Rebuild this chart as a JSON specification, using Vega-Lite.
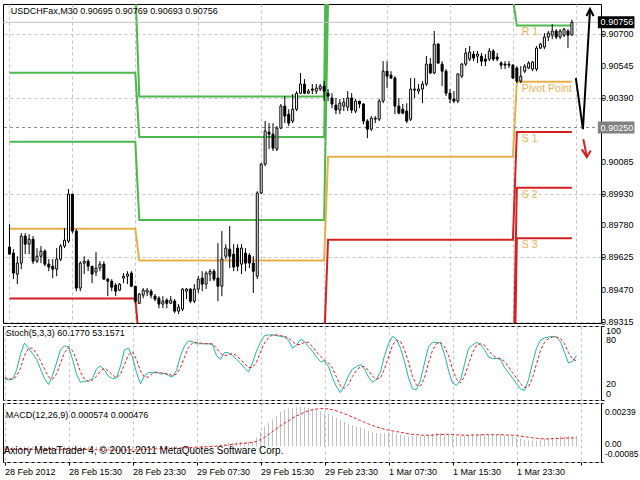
{
"$schema": "https://vega.github.io/schema/vega-lite/v6.json",
"background": "white",
"padding": {"left": 2, "top": 3, "right": 0, "bottom": 0},
"spacing": 3,
"bounds": "flush",
"config": {
  "view": {"stroke": "#000000", "strokeWidth": 1},
  "axis": {"labelFont": "Liberation Sans", "labelFontSize": 9, "labelColor": "#000000", "tickColor": "#000000", "tickSize": 3, "labelPadding": 2, "domain": false, "gridColor": "#c4c4c4", "gridDash": [3, 3], "gridWidth": 1, "labelOverlap": false},
  "text": {"font": "Liberation Sans"}
},
"datasets": {
  "candles": [
{"k":0,"o":0.89675,"h":0.89785,"l":0.89641,"c":0.89641},
{"k":1,"o":0.89646,"h":0.89665,"l":0.89521,"c":0.8955},
{"k":2,"o":0.89545,"h":0.89631,"l":0.89497,"c":0.89598},
{"k":3,"o":0.89598,"h":0.89742,"l":0.89569,"c":0.89728},
{"k":4,"o":0.89728,"h":0.89742,"l":0.89641,"c":0.89689},
{"k":5,"o":0.89689,"h":0.89737,"l":0.89641,"c":0.89713},
{"k":6,"o":0.89713,"h":0.89728,"l":0.89593,"c":0.89607},
{"k":7,"o":0.89607,"h":0.8967,"l":0.89598,"c":0.89631},
{"k":8,"o":0.89631,"h":0.8968,"l":0.89598,"c":0.89656},
{"k":9,"o":0.89656,"h":0.89665,"l":0.89583,"c":0.89593},
{"k":10,"o":0.89593,"h":0.89617,"l":0.89559,"c":0.89579},
{"k":11,"o":0.89583,"h":0.89617,"l":0.89526,"c":0.89569},
{"k":12,"o":0.89569,"h":0.8967,"l":0.89535,"c":0.89617},
{"k":13,"o":0.89617,"h":0.89689,"l":0.89607,"c":0.8968},
{"k":14,"o":0.8968,"h":0.89766,"l":0.8967,"c":0.89708},
{"k":15,"o":0.89704,"h":0.89954,"l":0.89694,"c":0.8993},
{"k":16,"o":0.8993,"h":0.8993,"l":0.89742,"c":0.89752},
{"k":17,"o":0.89752,"h":0.89761,"l":0.89463,"c":0.89478},
{"k":18,"o":0.89478,"h":0.89607,"l":0.89463,"c":0.89598},
{"k":19,"o":0.89598,"h":0.89631,"l":0.89545,"c":0.89607},
{"k":20,"o":0.89607,"h":0.89617,"l":0.89559,"c":0.89583},
{"k":21,"o":0.89583,"h":0.89583,"l":0.89502,"c":0.89545},
{"k":22,"o":0.89555,"h":0.89651,"l":0.89535,"c":0.89574},
{"k":23,"o":0.89574,"h":0.89607,"l":0.89559,"c":0.89593},
{"k":24,"o":0.89593,"h":0.89607,"l":0.89516,"c":0.89521},
{"k":25,"o":0.89521,"h":0.89526,"l":0.89439,"c":0.89511},
{"k":26,"o":0.89511,"h":0.89521,"l":0.89463,"c":0.89482},
{"k":27,"o":0.89492,"h":0.89502,"l":0.89439,"c":0.89463},
{"k":28,"o":0.89468,"h":0.89502,"l":0.89463,"c":0.89497},
{"k":29,"o":0.89526,"h":0.8955,"l":0.89502,"c":0.89535},
{"k":30,"o":0.89535,"h":0.89559,"l":0.89497,"c":0.89545},
{"k":31,"o":0.8955,"h":0.89559,"l":0.89482,"c":0.89487},
{"k":32,"o":0.89487,"h":0.89487,"l":0.89405,"c":0.89415},
{"k":33,"o":0.89405,"h":0.89454,"l":0.89401,"c":0.89449},
{"k":34,"o":0.89444,"h":0.89478,"l":0.89429,"c":0.89468},
{"k":35,"o":0.89458,"h":0.89478,"l":0.89439,"c":0.89468},
{"k":36,"o":0.89463,"h":0.89473,"l":0.89429,"c":0.89444},
{"k":37,"o":0.89439,"h":0.89449,"l":0.89415,"c":0.89425},
{"k":38,"o":0.89429,"h":0.89439,"l":0.89381,"c":0.89401},
{"k":39,"o":0.89401,"h":0.89439,"l":0.89381,"c":0.89415},
{"k":40,"o":0.8942,"h":0.89429,"l":0.89381,"c":0.89405},
{"k":41,"o":0.89405,"h":0.89439,"l":0.89401,"c":0.8942},
{"k":42,"o":0.89415,"h":0.89425,"l":0.89357,"c":0.89367},
{"k":43,"o":0.89367,"h":0.89401,"l":0.89353,"c":0.89386},
{"k":44,"o":0.89377,"h":0.89478,"l":0.89367,"c":0.89473},
{"k":45,"o":0.89463,"h":0.89478,"l":0.89425,"c":0.89473},
{"k":46,"o":0.89473,"h":0.89478,"l":0.89405,"c":0.89415},
{"k":47,"o":0.89415,"h":0.89497,"l":0.89405,"c":0.89473},
{"k":48,"o":0.89473,"h":0.89535,"l":0.89454,"c":0.89521},
{"k":49,"o":0.89526,"h":0.89559,"l":0.89463,"c":0.89497},
{"k":50,"o":0.89497,"h":0.89559,"l":0.89473,"c":0.8955},
{"k":51,"o":0.89545,"h":0.89569,"l":0.89511,"c":0.89559},
{"k":52,"o":0.89559,"h":0.89569,"l":0.89511,"c":0.89521},
{"k":53,"o":0.89526,"h":0.89694,"l":0.89415,"c":0.89487},
{"k":54,"o":0.89487,"h":0.89752,"l":0.89439,"c":0.89617},
{"k":55,"o":0.89631,"h":0.89689,"l":0.89617,"c":0.8967},
{"k":56,"o":0.89665,"h":0.89776,"l":0.89574,"c":0.89631},
{"k":57,"o":0.89641,"h":0.89689,"l":0.89559,"c":0.89579},
{"k":58,"o":0.8967,"h":0.89689,"l":0.89559,"c":0.89583},
{"k":59,"o":0.89593,"h":0.89689,"l":0.89545,"c":0.8967},
{"k":60,"o":0.89646,"h":0.8967,"l":0.89559,"c":0.89598},
{"k":61,"o":0.89636,"h":0.89646,"l":0.89574,"c":0.89598},
{"k":62,"o":0.89598,"h":0.89631,"l":0.89454,"c":0.89559},
{"k":63,"o":0.89535,"h":0.89944,"l":0.89521,"c":0.89935},
{"k":64,"o":0.89935,"h":0.90079,"l":0.8993,"c":0.90074},
{"k":65,"o":0.90074,"h":0.90281,"l":0.90064,"c":0.90233},
{"k":66,"o":0.90228,"h":0.90271,"l":0.90146,"c":0.90218},
{"k":67,"o":0.90218,"h":0.90271,"l":0.90137,"c":0.90151},
{"k":68,"o":0.90146,"h":0.90257,"l":0.90137,"c":0.90247},
{"k":69,"o":0.90247,"h":0.90363,"l":0.90242,"c":0.90353},
{"k":70,"o":0.90353,"h":0.90401,"l":0.90271,"c":0.90305},
{"k":71,"o":0.90314,"h":0.90338,"l":0.90257,"c":0.90271},
{"k":72,"o":0.90281,"h":0.90411,"l":0.90271,"c":0.90338},
{"k":73,"o":0.90338,"h":0.90425,"l":0.90329,"c":0.90415},
{"k":74,"o":0.90415,"h":0.90512,"l":0.90411,"c":0.90459},
{"k":75,"o":0.90459,"h":0.90483,"l":0.90411,"c":0.90415},
{"k":76,"o":0.90415,"h":0.90435,"l":0.90411,"c":0.90425},
{"k":77,"o":0.90435,"h":0.90459,"l":0.90411,"c":0.9043},
{"k":78,"o":0.90425,"h":0.90459,"l":0.90411,"c":0.9044},
{"k":79,"o":0.90435,"h":0.90459,"l":0.90425,"c":0.90449},
{"k":80,"o":0.90449,"h":0.90473,"l":0.90377,"c":0.90425},
{"k":81,"o":0.90415,"h":0.90435,"l":0.90377,"c":0.90401},
{"k":82,"o":0.90392,"h":0.90415,"l":0.90343,"c":0.90363},
{"k":83,"o":0.90358,"h":0.90392,"l":0.90314,"c":0.90334},
{"k":84,"o":0.90334,"h":0.90387,"l":0.90314,"c":0.90367},
{"k":85,"o":0.90353,"h":0.90392,"l":0.90329,"c":0.90372},
{"k":86,"o":0.90348,"h":0.90425,"l":0.90329,"c":0.90392},
{"k":87,"o":0.90392,"h":0.90415,"l":0.90319,"c":0.90334},
{"k":88,"o":0.90329,"h":0.90387,"l":0.90319,"c":0.90377},
{"k":89,"o":0.90377,"h":0.90377,"l":0.90343,"c":0.90363},
{"k":90,"o":0.90363,"h":0.90367,"l":0.90266,"c":0.90281},
{"k":91,"o":0.90281,"h":0.9029,"l":0.90199,"c":0.90242},
{"k":92,"o":0.90242,"h":0.90305,"l":0.90233,"c":0.90295},
{"k":93,"o":0.9029,"h":0.90305,"l":0.90271,"c":0.90295},
{"k":94,"o":0.9029,"h":0.90387,"l":0.90281,"c":0.90377},
{"k":95,"o":0.90377,"h":0.90569,"l":0.90367,"c":0.90521},
{"k":96,"o":0.90521,"h":0.90569,"l":0.9044,"c":0.90497},
{"k":97,"o":0.90502,"h":0.90521,"l":0.90483,"c":0.90488},
{"k":98,"o":0.90488,"h":0.90497,"l":0.90314,"c":0.90353},
{"k":99,"o":0.90353,"h":0.90392,"l":0.90314,"c":0.90319},
{"k":100,"o":0.90338,"h":0.90363,"l":0.90314,"c":0.90319},
{"k":101,"o":0.90329,"h":0.90367,"l":0.90271,"c":0.90281},
{"k":102,"o":0.9029,"h":0.90488,"l":0.90281,"c":0.90435},
{"k":103,"o":0.9043,"h":0.90488,"l":0.90392,"c":0.90435},
{"k":104,"o":0.90425,"h":0.90459,"l":0.90411,"c":0.90435},
{"k":105,"o":0.90435,"h":0.90473,"l":0.90367,"c":0.90459},
{"k":106,"o":0.90459,"h":0.90594,"l":0.90449,"c":0.90555},
{"k":107,"o":0.90555,"h":0.90584,"l":0.90507,"c":0.90512},
{"k":108,"o":0.90512,"h":0.90714,"l":0.90507,"c":0.90651},
{"k":109,"o":0.90651,"h":0.90656,"l":0.90555,"c":0.9056},
{"k":110,"o":0.90555,"h":0.90569,"l":0.90449,"c":0.90521},
{"k":111,"o":0.90521,"h":0.90531,"l":0.90401,"c":0.90415},
{"k":112,"o":0.90415,"h":0.90435,"l":0.90367,"c":0.90387},
{"k":113,"o":0.90387,"h":0.90425,"l":0.90367,"c":0.90377},
{"k":114,"o":0.90377,"h":0.90512,"l":0.90367,"c":0.90507},
{"k":115,"o":0.90497,"h":0.9056,"l":0.90488,"c":0.90555},
{"k":116,"o":0.90555,"h":0.90632,"l":0.90545,"c":0.90608},
{"k":117,"o":0.90579,"h":0.90642,"l":0.90569,"c":0.90613},
{"k":118,"o":0.90603,"h":0.90618,"l":0.90569,"c":0.90584},
{"k":119,"o":0.90593,"h":0.90618,"l":0.9056,"c":0.90603},
{"k":120,"o":0.90593,"h":0.90608,"l":0.90545,"c":0.90569},
{"k":121,"o":0.90579,"h":0.90603,"l":0.90545,"c":0.90569},
{"k":122,"o":0.90579,"h":0.90632,"l":0.90569,"c":0.90618},
{"k":123,"o":0.90618,"h":0.90627,"l":0.90569,"c":0.90579},
{"k":124,"o":0.90589,"h":0.90608,"l":0.90569,"c":0.90579},
{"k":125,"o":0.9056,"h":0.90569,"l":0.90531,"c":0.9055},
{"k":126,"o":0.90555,"h":0.90569,"l":0.90531,"c":0.9055},
{"k":127,"o":0.90555,"h":0.90569,"l":0.90536,"c":0.9055},
{"k":128,"o":0.9055,"h":0.90555,"l":0.90483,"c":0.90488},
{"k":129,"o":0.90536,"h":0.90545,"l":0.90464,"c":0.90473},
{"k":130,"o":0.90473,"h":0.90545,"l":0.90464,"c":0.90497},
{"k":131,"o":0.90521,"h":0.90555,"l":0.90512,"c":0.90545},
{"k":132,"o":0.90536,"h":0.90569,"l":0.90531,"c":0.9056},
{"k":133,"o":0.90531,"h":0.90569,"l":0.90521,"c":0.90565},
{"k":134,"o":0.90531,"h":0.90642,"l":0.90521,"c":0.90632},
{"k":135,"o":0.90632,"h":0.90656,"l":0.90627,"c":0.90651},
{"k":136,"o":0.90637,"h":0.90704,"l":0.90627,"c":0.90685},
{"k":137,"o":0.90685,"h":0.90714,"l":0.90666,"c":0.90704},
{"k":138,"o":0.90694,"h":0.90747,"l":0.90675,"c":0.90714},
{"k":139,"o":0.90714,"h":0.90723,"l":0.90675,"c":0.90685},
{"k":140,"o":0.90685,"h":0.90723,"l":0.90675,"c":0.90714},
{"k":141,"o":0.90694,"h":0.90728,"l":0.90685,"c":0.90723},
{"k":142,"o":0.90714,"h":0.90723,"l":0.90632,"c":0.90694},
{"k":143,"o":0.90695,"h":0.90769,"l":0.90693,"c":0.90756}
  ],
  "pivots": [
{"lvl":"R3","k":0,"p":0.90931},{"lvl":"R3","k":32,"p":0.90931},{"lvl":"R3","k":33,"p":0.90399},{"lvl":"R3","k":80,"p":0.90399},{"lvl":"R3","k":81,"p":0.92026},{"lvl":"R3","k":128,"p":0.92026},{"lvl":"R3","k":129,"p":0.91253},{"lvl":"R3","k":143,"p":0.91253},
{"lvl":"R2","k":0,"p":0.90513},{"lvl":"R2","k":32,"p":0.90513},{"lvl":"R2","k":33,"p":0.90205},{"lvl":"R2","k":80,"p":0.90205},{"lvl":"R2","k":81,"p":0.91267},{"lvl":"R2","k":128,"p":0.91267},{"lvl":"R2","k":129,"p":0.90982},{"lvl":"R2","k":143,"p":0.90982},
{"lvl":"R1","k":0,"p":0.90181},{"lvl":"R1","k":32,"p":0.90181},{"lvl":"R1","k":33,"p":0.89805},{"lvl":"R1","k":80,"p":0.89805},{"lvl":"R1","k":81,"p":0.90868},{"lvl":"R1","k":128,"p":0.90868},{"lvl":"R1","k":129,"p":0.90741},{"lvl":"R1","k":143,"p":0.90741},
{"lvl":"P","k":0,"p":0.89763},{"lvl":"P","k":32,"p":0.89763},{"lvl":"P","k":33,"p":0.89611},{"lvl":"P","k":80,"p":0.89611},{"lvl":"P","k":81,"p":0.90109},{"lvl":"P","k":128,"p":0.90109},{"lvl":"P","k":129,"p":0.9047},{"lvl":"P","k":143,"p":0.9047},
{"lvl":"S1","k":0,"p":0.89428},{"lvl":"S1","k":32,"p":0.89428},{"lvl":"S1","k":33,"p":0.89211},{"lvl":"S1","k":80,"p":0.89211},{"lvl":"S1","k":81,"p":0.8971},{"lvl":"S1","k":128,"p":0.8971},{"lvl":"S1","k":129,"p":0.90229},{"lvl":"S1","k":143,"p":0.90229},
{"lvl":"S2","k":0,"p":0.89013},{"lvl":"S2","k":32,"p":0.89013},{"lvl":"S2","k":33,"p":0.89017},{"lvl":"S2","k":80,"p":0.89017},{"lvl":"S2","k":81,"p":0.88951},{"lvl":"S2","k":128,"p":0.88951},{"lvl":"S2","k":129,"p":0.8996},{"lvl":"S2","k":143,"p":0.8996},
{"lvl":"S3","k":0,"p":0.88681},{"lvl":"S3","k":32,"p":0.88681},{"lvl":"S3","k":33,"p":0.88617},{"lvl":"S3","k":80,"p":0.88617},{"lvl":"S3","k":81,"p":0.88552},{"lvl":"S3","k":128,"p":0.88552},{"lvl":"S3","k":129,"p":0.89718},{"lvl":"S3","k":143,"p":0.89718}
  ],
  "stoch": [
{"k":0,"m":29,"s":30},{"k":1,"m":27,"s":29},{"k":2,"m":28,"s":28},{"k":3,"m":40,"s":32},{"k":4,"m":62,"s":43},{"k":5,"m":77,"s":60},{"k":6,"m":70,"s":70},{"k":7,"m":63,"s":70},{"k":8,"m":55,"s":63},{"k":9,"m":42,"s":53},
{"k":10,"m":29,"s":42},{"k":11,"m":21,"s":31},{"k":12,"m":33,"s":28},{"k":13,"m":50,"s":35},{"k":14,"m":68,"s":50},{"k":15,"m":73,"s":64},{"k":16,"m":72,"s":71},{"k":17,"m":55,"s":67},{"k":18,"m":35,"s":54},{"k":19,"m":24,"s":38},
{"k":20,"m":25,"s":28},{"k":21,"m":26,"s":25},{"k":22,"m":29,"s":27},{"k":23,"m":42,"s":32},{"k":24,"m":46,"s":39},{"k":25,"m":40,"s":43},{"k":26,"m":32,"s":39},{"k":27,"m":29,"s":34},{"k":28,"m":30,"s":30},{"k":29,"m":46,"s":35},
{"k":30,"m":68,"s":48},{"k":31,"m":70,"s":61},{"k":32,"m":58,"s":65},{"k":33,"m":37,"s":55},{"k":34,"m":22,"s":39},{"k":35,"m":33,"s":31},{"k":36,"m":37,"s":31},{"k":37,"m":37,"s":36},{"k":38,"m":38,"s":37},{"k":39,"m":35,"s":37},
{"k":40,"m":36,"s":36},{"k":41,"m":33,"s":35},{"k":42,"m":31,"s":33},{"k":43,"m":40,"s":35},{"k":44,"m":60,"s":44},{"k":45,"m":73,"s":58},{"k":46,"m":80,"s":71},{"k":47,"m":79,"s":77},{"k":48,"m":76,"s":78},{"k":49,"m":76,"s":77},
{"k":50,"m":76,"s":76},{"k":51,"m":76,"s":76},{"k":52,"m":75,"s":76},{"k":53,"m":60,"s":70},{"k":54,"m":55,"s":63},{"k":55,"m":64,"s":60},{"k":56,"m":64,"s":61},{"k":57,"m":60,"s":63},{"k":58,"m":55,"s":60},{"k":59,"m":50,"s":55},
{"k":60,"m":43,"s":49},{"k":61,"m":38,"s":44},{"k":62,"m":50,"s":44},{"k":63,"m":66,"s":51},{"k":64,"m":78,"s":65},{"k":65,"m":87,"s":77},{"k":66,"m":88,"s":84},{"k":67,"m":88,"s":88},{"k":68,"m":87,"s":88},{"k":69,"m":86,"s":87},
{"k":70,"m":85,"s":86},{"k":71,"m":81,"s":84},{"k":72,"m":70,"s":79},{"k":73,"m":74,"s":75},{"k":74,"m":82,"s":75},{"k":75,"m":79,"s":78},{"k":76,"m":72,"s":78},{"k":77,"m":66,"s":72},{"k":78,"m":58,"s":65},{"k":79,"m":52,"s":59},
{"k":80,"m":53,"s":54},{"k":81,"m":45,"s":50},{"k":82,"m":30,"s":43},{"k":83,"m":18,"s":31},{"k":84,"m":10,"s":19},{"k":85,"m":20,"s":16},{"k":86,"m":33,"s":21},{"k":87,"m":42,"s":32},{"k":88,"m":45,"s":40},{"k":89,"m":48,"s":45},
{"k":90,"m":42,"s":45},{"k":91,"m":31,"s":40},{"k":92,"m":24,"s":32},{"k":93,"m":28,"s":28},{"k":94,"m":38,"s":30},{"k":95,"m":60,"s":42},{"k":96,"m":76,"s":58},{"k":97,"m":86,"s":74},{"k":98,"m":82,"s":81},{"k":99,"m":70,"s":79},
{"k":100,"m":52,"s":68},{"k":101,"m":30,"s":51},{"k":102,"m":15,"s":32},{"k":103,"m":14,"s":20},{"k":104,"m":27,"s":19},{"k":105,"m":50,"s":30},{"k":106,"m":72,"s":50},{"k":107,"m":78,"s":67},{"k":108,"m":78,"s":76},{"k":109,"m":77,"s":78},
{"k":110,"m":62,"s":72},{"k":111,"m":40,"s":60},{"k":112,"m":23,"s":42},{"k":113,"m":20,"s":28},{"k":114,"m":27,"s":23},{"k":115,"m":48,"s":32},{"k":116,"m":70,"s":48},{"k":117,"m":74,"s":64},{"k":118,"m":78,"s":74},{"k":119,"m":75,"s":76},
{"k":120,"m":68,"s":74},{"k":121,"m":58,"s":67},{"k":122,"m":56,"s":61},{"k":123,"m":56,"s":57},{"k":124,"m":55,"s":56},{"k":125,"m":44,"s":52},{"k":126,"m":37,"s":45},{"k":127,"m":30,"s":37},{"k":128,"m":22,"s":30},{"k":129,"m":15,"s":22},
{"k":130,"m":13,"s":17},{"k":131,"m":27,"s":18},{"k":132,"m":50,"s":30},{"k":133,"m":70,"s":49},{"k":134,"m":81,"s":67},{"k":135,"m":84,"s":78},{"k":136,"m":85,"s":83},{"k":137,"m":86,"s":85},{"k":138,"m":85,"s":85},{"k":139,"m":79,"s":83},
{"k":140,"m":64,"s":76},{"k":141,"m":50,"s":64},{"k":142,"m":52,"s":55},{"k":143,"m":60.177,"s":53.1571}
  ],
  "macd": [
{"k":0,"h":-0.00018,"g":-0.00015},{"k":1,"h":-0.00019,"g":-0.00015},{"k":2,"h":-0.0002,"g":-0.00016},{"k":3,"h":-0.00018,"g":-0.00016},{"k":4,"h":-0.00016,"g":-0.00016},{"k":5,"h":-0.00015,"g":-0.00016},{"k":6,"h":-0.00015,"g":-0.00016},{"k":7,"h":-0.00016,"g":-0.00016},{"k":8,"h":-0.00016,"g":-0.00016},{"k":9,"h":-0.00017,"g":-0.00016},
{"k":10,"h":-0.00018,"g":-0.00016},{"k":11,"h":-0.00019,"g":-0.00017},{"k":12,"h":-0.00018,"g":-0.00017},{"k":13,"h":-0.00017,"g":-0.00017},{"k":14,"h":-0.00015,"g":-0.00017},{"k":15,"h":-0.0001,"g":-0.00016},{"k":16,"h":-0.00009,"g":-0.00015},{"k":17,"h":-0.00013,"g":-0.00015},{"k":18,"h":-0.00015,"g":-0.00015},{"k":19,"h":-0.00017,"g":-0.00015},
{"k":20,"h":-0.00018,"g":-0.00016},{"k":21,"h":-0.0002,"g":-0.00016},{"k":22,"h":-0.0002,"g":-0.00017},{"k":23,"h":-0.0002,"g":-0.00018},{"k":24,"h":-0.00021,"g":-0.00018},{"k":25,"h":-0.00022,"g":-0.00019},{"k":26,"h":-0.00022,"g":-0.0002},{"k":27,"h":-0.00022,"g":-0.0002},{"k":28,"h":-0.00021,"g":-0.0002},{"k":29,"h":-0.00019,"g":-0.0002},
{"k":30,"h":-0.00017,"g":-0.0002},{"k":31,"h":-0.00015,"g":-0.00019},{"k":32,"h":-0.00014,"g":-0.00018},{"k":33,"h":-0.00013,"g":-0.00018},{"k":34,"h":-0.00012,"g":-0.00017},{"k":35,"h":-0.0001,"g":-0.00016},{"k":36,"h":-0.00009,"g":-0.00015},{"k":37,"h":-0.00008,"g":-0.00014},{"k":38,"h":-0.00008,"g":-0.00013},{"k":39,"h":-0.00007,"g":-0.00012},
{"k":40,"h":-0.00007,"g":-0.00011},{"k":41,"h":-0.00006,"g":-0.0001},{"k":42,"h":-0.00006,"g":-0.00009},{"k":43,"h":-0.00006,"g":-0.00009},{"k":44,"h":-0.00004,"g":-0.00008},{"k":45,"h":-0.00003,"g":-0.00007},{"k":46,"h":-0.00002,"g":-0.00006},{"k":47,"h":-0.00001,"g":-0.00005},{"k":48,"h":0.00001,"g":-0.00004},{"k":49,"h":0.00002,"g":-0.00003},
{"k":50,"h":0.00004,"g":-0.00002},{"k":51,"h":0.00006,"g":-0.00001},{"k":52,"h":0.00007,"g":0},{"k":53,"h":0.00008,"g":0.00002},{"k":54,"h":0.00012,"g":0.00004},{"k":55,"h":0.00016,"g":0.00006},{"k":56,"h":0.0002,"g":0.00009},{"k":57,"h":0.00022,"g":0.00011},{"k":58,"h":0.00024,"g":0.00014},{"k":59,"h":0.00026,"g":0.00016},
{"k":60,"h":0.00027,"g":0.00018},{"k":61,"h":0.00028,"g":0.0002},{"k":62,"h":0.00028,"g":0.00022},{"k":63,"h":0.0005,"g":0.00028},{"k":64,"h":0.0008,"g":0.00038},{"k":65,"h":0.0011,"g":0.0005},{"k":66,"h":0.0013,"g":0.00066},{"k":67,"h":0.0015,"g":0.00082},{"k":68,"h":0.0017,"g":0.00098},{"k":69,"h":0.0019,"g":0.00114},
{"k":70,"h":0.002,"g":0.00128},{"k":71,"h":0.00208,"g":0.00142},{"k":72,"h":0.00212,"g":0.00156},{"k":73,"h":0.00216,"g":0.00168},{"k":74,"h":0.00218,"g":0.00178},{"k":75,"h":0.00216,"g":0.00188},{"k":76,"h":0.00212,"g":0.00196},{"k":77,"h":0.00206,"g":0.00202},{"k":78,"h":0.002,"g":0.00206},{"k":79,"h":0.00194,"g":0.00208},
{"k":80,"h":0.00187,"g":0.00208},{"k":81,"h":0.0018,"g":0.00206},{"k":82,"h":0.0017,"g":0.00202},{"k":83,"h":0.00158,"g":0.00196},{"k":84,"h":0.00145,"g":0.00188},{"k":85,"h":0.00135,"g":0.0018},{"k":86,"h":0.00126,"g":0.00171},{"k":87,"h":0.00117,"g":0.00162},{"k":88,"h":0.0011,"g":0.00152},{"k":89,"h":0.00104,"g":0.00142},
{"k":90,"h":0.00096,"g":0.00133},{"k":91,"h":0.00086,"g":0.00124},{"k":92,"h":0.0008,"g":0.00116},{"k":93,"h":0.00074,"g":0.00108},{"k":94,"h":0.00072,"g":0.00101},{"k":95,"h":0.00076,"g":0.00095},{"k":96,"h":0.00078,"g":0.0009},{"k":97,"h":0.00078,"g":0.00086},{"k":98,"h":0.00072,"g":0.00082},{"k":99,"h":0.00066,"g":0.00078},
{"k":100,"h":0.0006,"g":0.00074},{"k":101,"h":0.00054,"g":0.0007},{"k":102,"h":0.00056,"g":0.00067},{"k":103,"h":0.00058,"g":0.00065},{"k":104,"h":0.00059,"g":0.00063},{"k":105,"h":0.00061,"g":0.00062},{"k":106,"h":0.00066,"g":0.00062},{"k":107,"h":0.00068,"g":0.00063},{"k":108,"h":0.00074,"g":0.00065},{"k":109,"h":0.00074,"g":0.00066},
{"k":110,"h":0.00072,"g":0.00067},{"k":111,"h":0.00066,"g":0.00067},{"k":112,"h":0.0006,"g":0.00066},{"k":113,"h":0.00055,"g":0.00064},{"k":114,"h":0.00057,"g":0.00063},{"k":115,"h":0.0006,"g":0.00062},{"k":116,"h":0.00064,"g":0.00062},{"k":117,"h":0.00066,"g":0.00063},{"k":118,"h":0.00067,"g":0.00063},{"k":119,"h":0.00068,"g":0.00064},
{"k":120,"h":0.00067,"g":0.00065},{"k":121,"h":0.00066,"g":0.00065},{"k":122,"h":0.00066,"g":0.00065},{"k":123,"h":0.00065,"g":0.00065},{"k":124,"h":0.00064,"g":0.00065},{"k":125,"h":0.00061,"g":0.00064},{"k":126,"h":0.00058,"g":0.00063},{"k":127,"h":0.00055,"g":0.00062},{"k":128,"h":0.00049,"g":0.0006},{"k":129,"h":0.00042,"g":0.00057},
{"k":130,"h":0.00037,"g":0.00054},{"k":131,"h":0.00034,"g":0.00051},{"k":132,"h":0.00033,"g":0.00048},{"k":133,"h":0.00033,"g":0.00045},{"k":134,"h":0.00038,"g":0.00043},{"k":135,"h":0.00042,"g":0.00042},{"k":136,"h":0.00046,"g":0.00042},{"k":137,"h":0.0005,"g":0.00043},{"k":138,"h":0.00054,"g":0.00044},{"k":139,"h":0.00055,"g":0.00045},
{"k":140,"h":0.00056,"g":0.00046},{"k":141,"h":0.00058,"g":0.00047},{"k":142,"h":0.00055,"g":0.00047},{"k":143,"h":0.000574,"g":0.000476}
  ]
},
"vconcat": [
  {
    "width": 598,
    "height": 319,
    "layer": [
      {
        "data": {"name": "pivots"},
        "mark": {"type": "line", "strokeWidth": 2, "clip": true},
        "encoding": {
          "x": {"field": "k", "type": "quantitative", "scale": {"domain": [-0.375, 149.125], "nice": false, "zero": false},
                "axis": {"title": null, "values": [0,8,16,24,32,40,48,56,64,72,80,88,96,104,112,120,128,136,144], "labels": false, "ticks": false, "grid": true}},
          "y": {"field": "p", "type": "quantitative", "scale": {"domain": [0.8931, 0.90844], "nice": false, "zero": false},
                "axis": {"title": null, "orient": "right", "values": [0.907, 0.90545, 0.9039, 0.90085, 0.8993, 0.8978, 0.89625, 0.8947, 0.89315], "labels": false, "grid": true}},
          "color": {"field": "lvl", "type": "nominal", "legend": null,
                    "scale": {"domain": ["R1","R2","R3","P","S1","S2","S3"], "range": ["#4db84d","#4db84d","#4db84d","#e8b04a","#d42020","#d42020","#d42020"]}}
        }
      },
      {
        "data": {"values": [{"p": 0.90756}]},
        "mark": {"type": "rule", "color": "#c0c0c0", "strokeWidth": 1},
        "encoding": {"y": {"field": "p", "type": "quantitative"}}
      },
      {
        "data": {"values": [{"p": 0.9025}]},
        "mark": {"type": "rule", "color": "#8a8a8a", "strokeWidth": 1, "strokeDash": [3, 3]},
        "encoding": {"y": {"field": "p", "type": "quantitative"}}
      },
      {
        "data": {"name": "candles"},
        "mark": {"type": "rule", "color": "#000000", "strokeWidth": 1},
        "encoding": {
          "x": {"field": "k", "type": "quantitative"},
          "y": {"field": "l", "type": "quantitative"},
          "y2": {"field": "h"}
        }
      },
      {
        "data": {"name": "candles"},
        "mark": {"type": "bar", "width": 2, "stroke": "#000000", "strokeWidth": 1},
        "encoding": {
          "x": {"field": "k", "type": "quantitative"},
          "y": {"field": "o", "type": "quantitative"},
          "y2": {"field": "c"},
          "fill": {"condition": {"test": "datum.c >= datum.o", "value": "#ffffff"}, "value": "#000000"}
        }
      },
      {
        "data": {"values": [{"t": "R 1", "p": 0.90741}, {"t": "Pivot Point", "p": 0.9047}, {"t": "S 1", "p": 0.90229}, {"t": "S 2", "p": 0.8996}, {"t": "S 3", "p": 0.89718}]},
        "mark": {"type": "text", "align": "left", "baseline": "top", "dx": 1, "dy": 2, "fontSize": 10.5, "color": "#e6b35c"},
        "encoding": {"x": {"datum": 130}, "y": {"field": "p", "type": "quantitative"}, "text": {"field": "t"}}
      },
      {
        "data": {"values": [{"part": "a", "k": 144, "p": 0.90488}, {"part": "a", "k": 145.8, "p": 0.90242}, {"part": "a", "k": 147.6, "p": 0.90815}, {"part": "b", "k": 146.7, "p": 0.90786}, {"part": "b", "k": 147.6, "p": 0.9082}, {"part": "b", "k": 148.5, "p": 0.90786}]},
        "mark": {"type": "line", "color": "#000000", "strokeWidth": 2, "clip": false},
        "encoding": {"x": {"field": "k", "type": "quantitative"}, "y": {"field": "p", "type": "quantitative"}, "detail": {"field": "part"}}
      },
      {
        "data": {"values": [{"part": "c", "k": 145.9, "p": 0.90194}, {"part": "c", "k": 146.8, "p": 0.9011}, {"part": "d", "k": 145.5, "p": 0.90145}, {"part": "d", "k": 146.8, "p": 0.90108}, {"part": "d", "k": 147.8, "p": 0.9014}]},
        "mark": {"type": "line", "color": "#d42020", "strokeWidth": 2, "clip": false},
        "encoding": {"x": {"field": "k", "type": "quantitative"}, "y": {"field": "p", "type": "quantitative"}, "detail": {"field": "part"}}
      },
      {
        "data": {"values": [{"v": 0.907}, {"v": 0.90545}, {"v": 0.9039}, {"v": 0.90085}, {"v": 0.8993}, {"v": 0.8978}, {"v": 0.89625}, {"v": 0.8947}, {"v": 0.89315}]},
        "mark": {"type": "text", "align": "left", "baseline": "middle", "color": "#000000", "fontSize": 9, "clip": false},
        "encoding": {"x": {"datum": 150.4}, "y": {"field": "v", "type": "quantitative"}, "text": {"field": "v", "type": "quantitative", "format": ".5f"}}
      },
      {
        "data": {"values": [{"p": 0.90756}]},
        "mark": {"type": "rule", "strokeWidth": 12, "color": "#000000", "clip": false},
        "encoding": {"x": {"datum": 149.6}, "x2": {"datum": 158.9}, "y": {"field": "p", "type": "quantitative"}}
      },
      {
        "data": {"values": [{"p": 0.9025}]},
        "mark": {"type": "rule", "strokeWidth": 12, "color": "#808080", "clip": false},
        "encoding": {"x": {"datum": 149.6}, "x2": {"datum": 158.9}, "y": {"field": "p", "type": "quantitative"}}
      },
      {
        "data": {"values": [{"p": 0.90756}, {"p": 0.9025}]},
        "mark": {"type": "text", "align": "left", "baseline": "middle", "color": "#ffffff", "fontSize": 9, "clip": false},
        "encoding": {"x": {"datum": 150.3}, "y": {"field": "p", "type": "quantitative"}, "text": {"field": "p", "type": "quantitative", "format": ".5f"}}
      },
      {
        "data": {"values": [{"t": "USDCHFax,M30  0.90695 0.90769 0.90693 0.90756"}]},
        "mark": {"type": "text", "align": "left", "baseline": "top", "dx": 2, "dy": 3, "fontSize": 9, "color": "#000000"},
        "encoding": {"x": {"datum": -0.2}, "y": {"datum": 0.90844}, "text": {"field": "t"}}
      }
    ]
  },
  {
    "width": 598,
    "height": 74,
    "data": {"name": "stoch"},
    "layer": [
      {
        "mark": {"type": "line", "color": "#20b2aa", "strokeWidth": 1},
        "encoding": {
          "x": {"field": "k", "type": "quantitative", "scale": {"domain": [-0.375, 149.125], "nice": false, "zero": false},
                "axis": {"title": null, "values": [0,8,16,24,32,40,48,56,64,72,80,88,96,104,112,120,128,136,144], "labels": false, "ticks": false, "grid": true}},
          "y": {"field": "m", "type": "quantitative", "scale": {"domain": [0, 100], "nice": false, "zero": false},
                "axis": {"title": null, "orient": "right", "values": [0, 20, 80, 100], "labels": false, "grid": true}}
        }
      },
      {
        "mark": {"type": "line", "color": "#e02020", "strokeWidth": 1, "strokeDash": [3, 2]},
        "encoding": {"x": {"field": "k", "type": "quantitative"}, "y": {"field": "s", "type": "quantitative"}}
      },
      {
        "data": {"values": [{"v": 80}, {"v": 20}]},
        "mark": {"type": "text", "align": "left", "baseline": "middle", "dy": -1, "color": "#000000", "fontSize": 9, "clip": false},
        "encoding": {"x": {"datum": 150.4}, "y": {"field": "v", "type": "quantitative"}, "text": {"field": "v", "type": "quantitative"}}
      },
      {
        "data": {"values": [{"v": 100}]},
        "mark": {"type": "text", "align": "left", "baseline": "top", "dy": 1, "color": "#000000", "fontSize": 9, "clip": false},
        "encoding": {"x": {"datum": 150.4}, "y": {"field": "v", "type": "quantitative"}, "text": {"field": "v", "type": "quantitative"}}
      },
      {
        "data": {"values": [{"v": 0}]},
        "mark": {"type": "text", "align": "left", "baseline": "bottom", "dy": -1, "color": "#000000", "fontSize": 9, "clip": false},
        "encoding": {"x": {"datum": 150.4}, "y": {"field": "v", "type": "quantitative"}, "text": {"field": "v", "type": "quantitative"}}
      },
      {
        "data": {"values": [{"t": "Stoch(5,3,3) 60.1770 53.1571"}]},
        "mark": {"type": "text", "align": "left", "baseline": "top", "dx": 2, "dy": 3, "fontSize": 9, "color": "#000000"},
        "encoding": {"x": {"datum": -0.2}, "y": {"datum": 100}, "text": {"field": "t"}}
      }
    ]
  },
  {
    "width": 598,
    "height": 59,
    "data": {"name": "macd"},
    "layer": [
      {
        "mark": {"type": "rule", "color": "#c0c0c0", "strokeWidth": 1},
        "encoding": {
          "x": {"field": "k", "type": "quantitative", "scale": {"domain": [-0.375, 149.125], "nice": false, "zero": false},
                "axis": {"title": null, "values": [0,8,16,24,32,40,48,56,64,72,80,88,96,104,112,120,128,136,144], "grid": true, "labelAlign": "left", "labelFlush": false, "labelBound": false, "labelOverlap": false,
                         "labelExpr": "(datum.value % 16 == 0 && datum.value <= 128) ? ['28 Feb 2012','28 Feb 15:30','28 Feb 23:30','29 Feb 07:30','29 Feb 15:30','29 Feb 23:30','1 Mar 07:30','1 Mar 15:30','1 Mar 23:30'][datum.value / 16] : ''"}},
          "y": {"field": "h", "type": "quantitative", "scale": {"domain": [-0.00085, 0.00239], "nice": false, "zero": false},
                "axis": {"title": null, "orient": "right", "values": [-0.00085, 0, 0.00239], "labels": false, "grid": true, "tickSize": 2}},
          "y2": {"datum": 0}
        }
      },
      {
        "mark": {"type": "line", "color": "#e02020", "strokeWidth": 1, "strokeDash": [3, 2]},
        "encoding": {"x": {"field": "k", "type": "quantitative"}, "y": {"field": "g", "type": "quantitative"}}
      },
      {
        "data": {"values": [{"t": "0.00239", "v": 0.00239}]},
        "mark": {"type": "text", "align": "left", "baseline": "top", "dy": 5, "color": "#000000", "fontSize": 8.5, "clip": false},
        "encoding": {"x": {"datum": 150.1}, "y": {"field": "v", "type": "quantitative"}, "text": {"field": "t"}}
      },
      {
        "data": {"values": [{"t": "0.00", "v": 0}]},
        "mark": {"type": "text", "align": "left", "baseline": "middle", "dy": -3, "color": "#000000", "fontSize": 8.5, "clip": false},
        "encoding": {"x": {"datum": 150.1}, "y": {"field": "v", "type": "quantitative"}, "text": {"field": "t"}}
      },
      {
        "data": {"values": [{"t": "-0.00085", "v": -0.00085}]},
        "mark": {"type": "text", "align": "left", "baseline": "bottom", "dy": -3, "color": "#000000", "fontSize": 8.5, "clip": false},
        "encoding": {"x": {"datum": 150.1}, "y": {"field": "v", "type": "quantitative"}, "text": {"field": "t"}}
      },
      {
        "data": {"values": [{"t": "MACD(12,26,9) 0.000574 0.000476"}]},
        "mark": {"type": "text", "align": "left", "baseline": "top", "dx": 2, "dy": 8, "fontSize": 9, "color": "#000000"},
        "encoding": {"x": {"datum": -0.2}, "y": {"datum": 0.00239}, "text": {"field": "t"}}
      },
      {
        "data": {"values": [{"t": "Axiory MetaTrader 4, © 2001-2011 MetaQuotes Software Corp."}]},
        "mark": {"type": "text", "align": "left", "baseline": "middle", "dx": 0, "fontSize": 10, "color": "#000000"},
        "encoding": {"x": {"datum": -0.2}, "y": {"datum": -0.00025}, "text": {"field": "t"}}
      }
    ]
  }
]
}
